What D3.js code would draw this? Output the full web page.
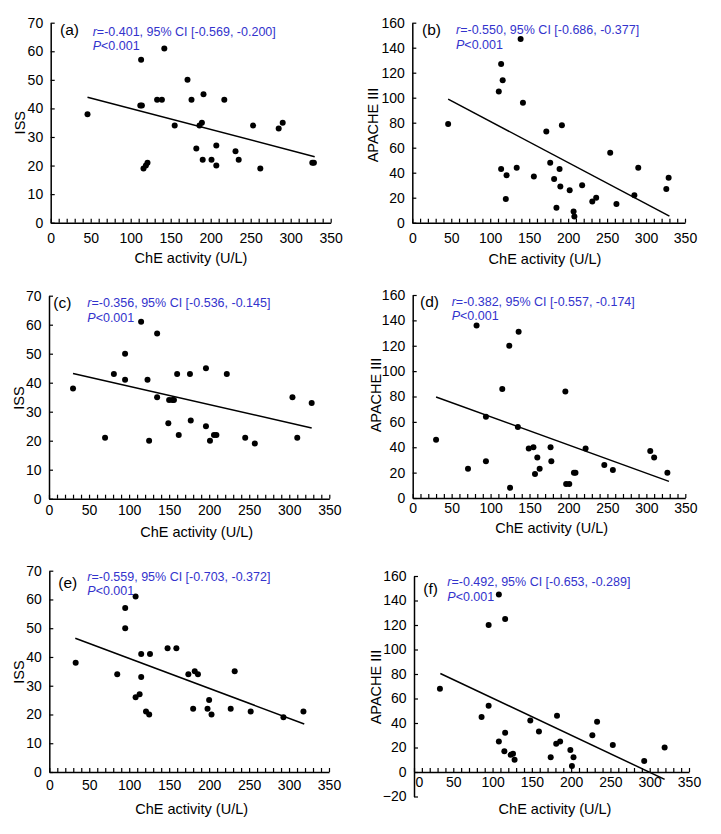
<!DOCTYPE html>
<html>
<head>
<meta charset="utf-8">
<script src="https://cdn.jsdelivr.net/npm/d3@7"></script>
<style>
  html, body { margin: 0; padding: 0; background: #fff; }
  svg { display: block; font-family: "Liberation Sans", Arial, sans-serif; }
</style>
</head>
<body>
<svg id="chart" width="721" height="834"></svg>
<script>
// ---------------- DATA ----------------
// ChE activity (U/L) values and scores
const cheA = [46,112,114,113,116,119,121,133,139,142,155,171,176,182,186,189,191,190,201,207,207,217,231,235,253,262,285,290,327,329];
const issA = [38,41,41,57,19,20,21,43,43,61,34,50,43,26,34,35,45,22,22,27,20,43,25,22,34,19,33,35,21,21];

const cheB = [46,111,114,116,114,121,120,134,139,142,156,172,177,182,185,189,190,192,202,207,208,218,231,236,254,262,285,290,326,329];
const apacheB = [79,105,127,114,43,38,19,44,147,96,37,73,48,35,12,43,29,78,26,9,5,30,17,20,56,15,22,44,27,36];

const cheC = [30,70,81,95,95,115,123,125,135,135,149,150,154,156,160,162,176,177,196,196,201,206,209,222,245,257,304,310,328];
const issC = [38,21,43,50,41,61,41,20,35,57,26,34,34,34,43,22,43,27,45,25,20,22,22,43,21,19,35,21,33];

const cheD = [30,71,82,94,94,115,124,125,136,135,149,155,157,160,163,177,178,196,197,201,207,209,222,246,257,305,310,327];
const apacheD = [46,23,136,64,29,86,120,8,131,56,39,40,19,32,23,40,29,84,11,11,20,20,39,26,22,37,32,20];

const cheE = [33,85,95,95,108,108,113,115,115,121,125,126,148,159,174,180,182,186,198,200,203,227,232,252,293,318];
const issE = [38,34,57,50,61,26,27,41,33,21,20,41,43,43,34,22,35,34,22,25,20,22,35,21,19,21];

const cheF = [33,86,95,95,108,108,115,116,116,123,126,128,148,159,174,181,182,186,199,201,203,227,233,253,293,319];
const apacheF = [68,45,120,54,145,25,17,125,32,14,15,10,42,33,12,23,46,25,18,5,12,30,41,22,9,20];

// regression line end points (x values, y values)
const fitXA = [46, 330],   fitYA = [43.9, 23.1];
const fitXB = [46, 330],   fitYB = [98.9, 5.3];
const fitXC = [30, 328],   fitYC = [43.2, 24.4];
const fitXD = [30, 329],   fitYD = [79.6, 13.1];
const fitXE = [32.5, 319], fitYE = [46.5, 16.7];
const fitXF = [33.5, 319], fitYF = [80.4, -6];

// annotation texts
const panelLetters = ["(a)", "(b)", "(c)", "(d)", "(e)", "(f)"];
const rTexts = ["=-0.401, 95% CI [-0.569, -0.200]", "=-0.550, 95% CI [-0.686, -0.377]",
                "=-0.356, 95% CI [-0.536, -0.145]", "=-0.382, 95% CI [-0.557, -0.174]",
                "=-0.559, 95% CI [-0.703, -0.372]", "=-0.492, 95% CI [-0.653, -0.289]"];
const pText = "<0.001";
const yTitles = ["ISS", "APACHE III", "ISS", "APACHE III", "ISS", "APACHE III"];
const xTitle = "ChE activity (U/L)";
const xDomain = [0, 350];
const xMajorTicks = [0, 50, 100, 150, 200, 250, 300, 350];
const issDomain = [0, 70], issTicks = [0, 10, 20, 30, 40, 50, 60, 70];
const apDomain = [0, 160], apTicks = [0, 20, 40, 60, 80, 100, 120, 140, 160];
const apDomainF = [-20, 160], apTicksF = [-20, 0, 20, 40, 60, 80, 100, 120, 140, 160];

// ---------------- LAYOUT ----------------
const panels = [
  { xs: cheA, ys: issA, fx: fitXA, fy: fitYA, yDom: issDomain, yTicks: issTicks,
    L: 50.7, R: 330.7, T: 22.7, B: 222.7, xpad: 10,
    letter: [60, 35], ann: [92.7, 35.5, 50], ytl: [24.5, 122.7], xtl: [191, 263] },
  { xs: cheB, ys: apacheB, fx: fitXB, fy: fitYB, yDom: apDomain, yTicks: apTicks,
    L: 412.3, R: 685, T: 22.7, B: 222.7, xpad: 10,
    letter: [422, 34.5], ann: [456, 34, 48.5], ytl: [378, 125], xtl: [545, 264] },
  { xs: cheC, ys: issC, fx: fitXC, fy: fitYC, yDom: issDomain, yTicks: issTicks,
    L: 49, R: 329.3, T: 295.7, B: 498.7, xpad: 6.5,
    letter: [53.3, 308.3], ann: [87.3, 306.7, 322], ytl: [23.5, 398], xtl: [196.7, 537] },
  { xs: cheD, ys: apacheD, fx: fitXD, fy: fitYD, yDom: apDomain, yTicks: apTicks,
    L: 412.7, R: 685.3, T: 295, B: 498, xpad: 5,
    letter: [420, 307.3], ann: [451.7, 305.5, 319.5], ytl: [381, 395], xtl: [551.7, 533] },
  { xs: cheE, ys: issE, fx: fitXE, fy: fitYE, yDom: issDomain, yTicks: issTicks,
    L: 49.3, R: 329, T: 570.7, B: 772, xpad: 8.5,
    letter: [58.3, 588], ann: [87.3, 580.5, 595], ytl: [23.5, 672], xtl: [191.7, 814] },
  { xs: cheF, ys: apacheF, fx: fitXF, fy: fitYF, yDom: apDomainF, yTicks: apTicksF,
    L: 414, R: 689, T: 576, B: 796.5, xpad: 5.5,
    letter: [423.3, 594], ann: [447.3, 586, 600.5], ytl: [380.5, 687], xtl: [555, 814] }
];

const svg = d3.select("#chart");
const BLUE = "#3333cc";

panels.forEach((p, i) => {
  const x = d3.scaleLinear().domain(xDomain).range([p.L, p.R]);
  const y = d3.scaleLinear().domain(p.yDom).range([p.B, p.T]);
  const g = svg.append("g");

  // x axis (at y = 0)
  const xAxis = d3.axisBottom(x)
    .tickValues(d3.range(0, 351, 10))
    .tickSizeInner(-4).tickSizeOuter(0).tickPadding(p.xpad)
    .tickFormat(d => xMajorTicks.includes(d) ? d : "");
  const gx = g.append("g").attr("transform", `translate(0,${y(0)})`).call(xAxis);
  gx.select(".domain").attr("stroke", "#000").attr("stroke-width", 1.5);
  gx.selectAll(".tick line").attr("stroke", "#000").attr("stroke-width", 1.2);
  gx.selectAll(".tick text").attr("font-size", 14).attr("fill", "#000")
    .attr("font-family", "Liberation Sans, Arial, sans-serif");
  if (i === 5) gx.selectAll(".tick text").filter(d => d === 0).attr("dx", 5);

  // y axis
  const yAxis = d3.axisLeft(y)
    .tickValues(p.yTicks)
    .tickSizeInner(-4).tickSizeOuter(0).tickPadding(7.5);
  const gy = g.append("g").attr("transform", `translate(${p.L},0)`).call(yAxis);
  gy.select(".domain").attr("stroke", "#000").attr("stroke-width", 1.5);
  gy.selectAll(".tick line").attr("stroke", "#000").attr("stroke-width", 1.2);
  gy.selectAll(".tick text").attr("font-size", 14).attr("fill", "#000")
    .attr("font-family", "Liberation Sans, Arial, sans-serif");

  // regression line
  g.append("line")
    .attr("x1", x(p.fx[0])).attr("y1", y(p.fy[0]))
    .attr("x2", x(p.fx[1])).attr("y2", y(p.fy[1]))
    .attr("stroke", "#000").attr("stroke-width", 1.5);

  // points
  g.selectAll("circle.pt").data(d3.zip(p.xs, p.ys)).join("circle")
    .attr("class", "pt")
    .attr("cx", d => x(d[0])).attr("cy", d => y(d[1]))
    .attr("r", 3).attr("fill", "#000");

  // panel letter
  g.append("text").attr("x", p.letter[0]).attr("y", p.letter[1])
    .attr("font-size", 15.5).attr("fill", "#000").text(panelLetters[i]);

  // annotation
  const t1 = g.append("text").attr("x", p.ann[0]).attr("y", p.ann[1])
    .attr("font-size", 12.5).attr("fill", BLUE);
  t1.append("tspan").attr("font-style", "italic").text("r");
  t1.append("tspan").text(rTexts[i]);
  const t2 = g.append("text").attr("x", p.ann[0]).attr("y", p.ann[2])
    .attr("font-size", 12.5).attr("fill", BLUE);
  t2.append("tspan").attr("font-style", "italic").text("P");
  t2.append("tspan").text(pText);

  // axis titles
  g.append("text").attr("transform", `translate(${p.ytl[0]},${p.ytl[1]}) rotate(-90)`)
    .attr("text-anchor", "middle").attr("font-size", 14.5).attr("fill", "#000")
    .text(yTitles[i]);
  g.append("text").attr("x", p.xtl[0]).attr("y", p.xtl[1])
    .attr("text-anchor", "middle").attr("font-size", 14.5).attr("fill", "#000")
    .text(xTitle);
});
</script>
</body>
</html>
